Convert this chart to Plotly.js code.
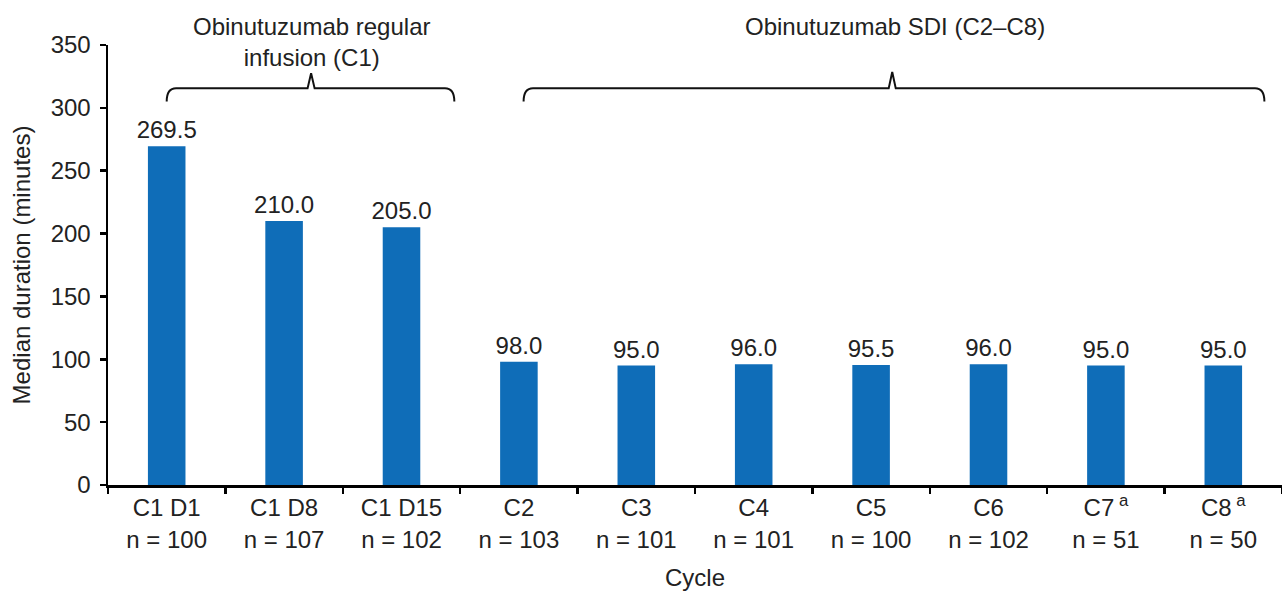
<!DOCTYPE html>
<html>
<head>
<meta charset="utf-8">
<script src="https://cdn.plot.ly/plotly-3.0.1.min.js"></script>
<style>html,body{margin:0;padding:0;background:#fff;}#chart{width:1282px;height:594px;}</style>
</head>
<body>
<div id="chart"></div>
<script>
const categories = ["C1 D1", "C1 D8", "C1 D15", "C2", "C3", "C4", "C5", "C6", "C7<sup> a</sup>", "C8<sup> a</sup>"];
const sampleSizes = [100, 107, 102, 103, 101, 101, 100, 102, 51, 50];
const medianDuration = [269.5, 210.0, 205.0, 98.0, 95.0, 96.0, 95.5, 96.0, 95.0, 95.0];
const groupLabels = ["Obinutuzumab regular<br>infusion (C1)", "Obinutuzumab SDI (C2–C8)"];

const tickText = categories.map((c, i) => c + "<br>n = " + sampleSizes[i]);
const FONT = "Liberation Sans, Arial, sans-serif";
const TXT = "#222222";
const FS = 24;

const trace = {
  type: "bar",
  x: categories,
  y: medianDuration,
  marker: {color: "#0f6db8", line: {width: 0}},
  width: 0.32,
  text: medianDuration.map(v => v.toFixed(1)),
  texttemplate: "%{text}",
  textposition: "outside",
  constraintext: "none",
  textangle: 0,
  cliponaxis: false,
  textfont: {family: FONT, size: 24, color: TXT},
  hoverinfo: "x+y"
};

function bracket(x0, x1, xm, yTop, yEnd, yPeak) {
  const c = 0.08;
  return {
    type: "path", xref: "x", yref: "y",
    path: `M ${x0} ${yEnd} Q ${x0} ${yTop} ${x0 + c} ${yTop} L ${xm - 0.03} ${yTop} L ${xm} ${yPeak} L ${xm + 0.03} ${yTop} L ${x1 - c} ${yTop} Q ${x1} ${yTop} ${x1} ${yEnd}`,
    line: {color: "#111", width: 2}
  };
}

const layout = {
  width: 1282, height: 594,
  margin: {l: 108, r: 0, t: 45, b: 109},
  paper_bgcolor: "#fff", plot_bgcolor: "#fff",
  showlegend: false,
  font: {family: FONT, size: FS, color: TXT},
  xaxis: {
    type: "category",
    tickmode: "array",
    tickvals: categories,
    ticktext: tickText,
    tickson: "boundaries",
    ticks: "outside", ticklen: 6, tickwidth: 2.5, tickcolor: "#000",
    showline: true, linecolor: "#000", linewidth: 2.5,
    showgrid: false, zeroline: false,
    range: [-0.5, 9.5],
    tickfont: {family: FONT, size: FS, color: TXT},
    title: {text: "Cycle", font: {family: FONT, size: FS, color: TXT}, standoff: 18}
  },
  yaxis: {
    range: [0, 350], dtick: 50, tick0: 0,
    ticks: "outside", ticklen: 6, tickwidth: 2.5, tickcolor: "#000",
    showline: true, linecolor: "#000", linewidth: 2.5,
    showgrid: false, zeroline: false,
    tickfont: {family: FONT, size: FS, color: TXT},
    ticklabelstandoff: 4,
    title: {text: "Median duration (minutes)", font: {family: FONT, size: FS, color: TXT}, standoff: 14}
  },
  shapes: [
    bracket(0.0, 2.45, 1.23, 315.5, 305, 327.5),
    bracket(3.04, 9.35, 6.18, 315.5, 305, 328.5)
  ],
  annotations: [
    {x: 1.23, y: 1.078, xref: "x", yref: "paper", text: groupLabels[0], showarrow: false, yanchor: "top", font: {family: FONT, size: FS, color: TXT}},
    {x: 6.2, y: 1.078, xref: "x", yref: "paper", text: groupLabels[1], showarrow: false, yanchor: "top", font: {family: FONT, size: FS, color: TXT}}
  ]
};

Plotly.newPlot("chart", [trace], layout, {displayModeBar: false, staticPlot: true});
</script>
</body>
</html>
